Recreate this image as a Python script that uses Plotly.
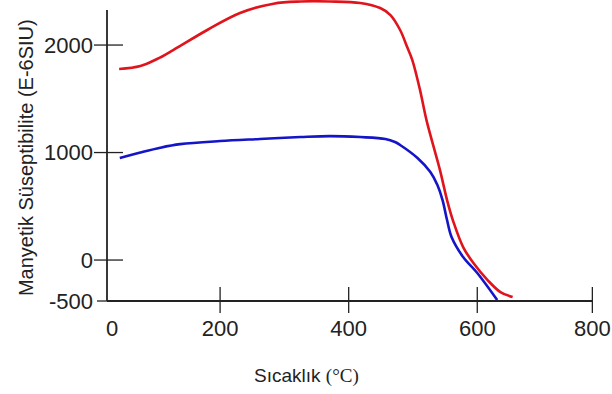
import plotly.graph_objects as go

# --- data ---
red_temp = [43, 76, 102, 127, 180, 231, 283, 325, 371, 418, 449, 465, 480, 491, 499,
            511, 521, 542, 553, 563, 578, 594, 616, 636, 655]
red_sus = [1777, 1805, 1870, 1953, 2140, 2298, 2385, 2405, 2405, 2391, 2344, 2279, 2140,
           1981, 1860, 1581, 1302, 837, 558, 353, 121, -28, -186, -298, -344]

blue_temp = [44, 76, 107, 138, 200, 262, 325, 371, 418, 457, 472, 480, 507, 527,
             538, 546, 553, 560, 578, 600, 631]
blue_sus = [949, 1000, 1045, 1078, 1107, 1126, 1144, 1153, 1144, 1126, 1098, 1070,
            949, 819, 698, 558, 372, 214, 28, -121, -372]

x_tick_vals = [32, 200, 400, 600, 779]
x_tick_text = ["0", "200", "400", "600", "800"]
x_mark_vals = [200, 400, 600, 779]
y_tick_vals = [-381, 0, 1000, 2000]
y_tick_text = ["-500", "0", "1000", "2000"]

x_range = [24.1, 780]
y_range = [-381, 2419]
y_axis_top = 2326

AXIS_COLOR = "#222222"
FONT = "Liberation Sans, Arial, sans-serif"

fig = go.Figure()
fig.add_trace(go.Scatter(x=red_temp, y=red_sus, mode="lines",
                         line=dict(color="#e0141c", width=2.6, shape="spline", smoothing=1.0),
                         showlegend=False))
fig.add_trace(go.Scatter(x=blue_temp, y=blue_sus, mode="lines",
                         line=dict(color="#1414c8", width=2.6, shape="spline", smoothing=1.0),
                         showlegend=False))


def xf(v):
    return (v - x_range[0]) / (x_range[1] - x_range[0])


def yf(v):
    return (v - y_range[0]) / (y_range[1] - y_range[0])


shapes = []
# axis lines
shapes.append(dict(type="line", xref="x domain", yref="y domain",
                   x0=0, x1=0, y0=0, y1=yf(y_axis_top),
                   line=dict(color=AXIS_COLOR, width=1.8)))
shapes.append(dict(type="line", xref="x domain", yref="y domain",
                   x0=0, x1=xf(x_mark_vals[-1]), y0=0, y1=0,
                   line=dict(color=AXIS_COLOR, width=1.8)))
# y tick marks (crossing)
for v in y_tick_vals:
    left, right = (-13, 16) if v != y_tick_vals[0] else (-10, 0)
    shapes.append(dict(type="line", xref="x domain", yref="y domain",
                       xsizemode="pixel", xanchor=0, x0=left, x1=right,
                       y0=yf(v), y1=yf(v),
                       line=dict(color=AXIS_COLOR, width=1.3)))
# x tick marks (crossing)
for v in x_mark_vals:
    shapes.append(dict(type="line", xref="x domain", yref="y domain",
                       ysizemode="pixel", yanchor=0, y0=-12, y1=14,
                       x0=xf(v), x1=xf(v),
                       line=dict(color=AXIS_COLOR, width=1.3)))

fig.update_layout(
    width=612, height=394,
    margin=dict(l=107, r=19, t=0, b=93),
    paper_bgcolor="white", plot_bgcolor="white",
    shapes=shapes,
    xaxis=dict(range=x_range, showgrid=False, zeroline=False, showline=False,
               ticks="", tickvals=x_tick_vals, ticktext=x_tick_text,
               ticklabelstandoff=12,
               tickfont=dict(family=FONT, size=22, color=AXIS_COLOR)),
    yaxis=dict(range=y_range, showgrid=False, zeroline=False, showline=False,
               ticks="", tickvals=y_tick_vals, ticktext=y_tick_text,
               ticklabelstandoff=13,
               tickfont=dict(family=FONT, size=22, color=AXIS_COLOR)),
    annotations=[
        dict(text="Sıcaklık <span style='font-family:Liberation Serif, Times New Roman, serif'>(°C)</span>",
             xref="paper", yref="paper", x=0.4115, y=-0.249,
             xanchor="center", yanchor="middle", showarrow=False,
             font=dict(family=FONT, size=19, color=AXIS_COLOR)),
        dict(text="Manyetik Süseptibilite (E-6SIU)",
             xref="paper", yref="paper", x=-0.1667, y=0.478,
             xanchor="center", yanchor="middle", textangle=-90, showarrow=False,
             font=dict(family=FONT, size=20, color=AXIS_COLOR)),
    ],
)

fig.write_html("out.html")
